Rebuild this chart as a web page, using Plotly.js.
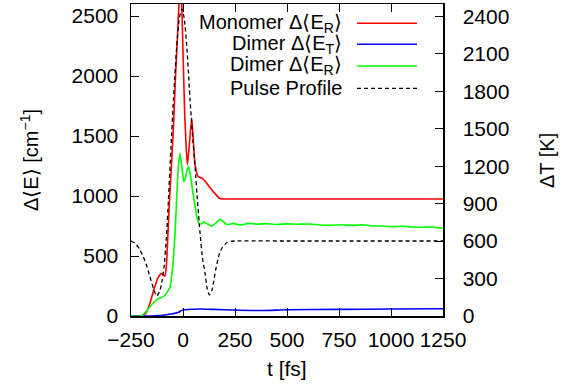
<!DOCTYPE html>
<html>
<head>
<meta charset="utf-8">
<script src="https://cdn.plot.ly/plotly-3.0.1.min.js"></script>
<style>html,body{margin:0;padding:0;background:#fff;}#plot{width:570px;height:390px;}</style>
</head>
<body>
<div id="plot"></div>
<script>
// Monomer Δ<E_R> (cm^-1)
const monoT = [-250,-200,-180,-160,-140,-120,-102,-87,-80,-72,-64,-54,-44,-36,-26,-18,-12,-6,0,8,14,21,30,42,50,58,74,90,100,114,146,175,200,250,500,750,1000,1250];
const monoE = [0,0,20,100,220,320,355,330,420,700,1000,1300,1650,2000,2350,2650,2750,2600,2200,1700,1450,1260,1420,1650,1450,1260,1160,1150,1135,1106,1036,981,975,975,975,975,975,975];
// Dimer Δ<E_T>
const dimTT = [-250,-150,-120,-100,-78,-60,-40,-20,-8,0,20,50,82,150,240,385,500,757,1000,1250];
const dimTE = [0,0,3,6,11,16,22,32,45,50,54,56,58,55,50,46,52,55,58,60];
// Dimer Δ<E_R>
const dimRT = [-250,-200,-180,-160,-143,-120,-102,-85,-70,-62,-50,-38,-30,-22,-14,-6,4,12,20,26,35,45,55,66,78,90,100,115,135,155,178,195,210,242,274,314,360,400,450,500,550,611,659,707,760,820,867,900,950,1011,1060,1100,1155,1200,1230,1250];
const dimRE = [0,0,30,75,108,145,155,175,215,245,400,700,1000,1250,1356,1250,1120,1150,1220,1245,1180,1060,950,830,765,770,786,770,750,770,805,785,762,772,758,772,765,770,762,768,765,767,758,756,760,755,760,752,750,745,748,742,739,742,732,736];
// Pulse profile
const pulseT = [-250,-230,-210,-191,-175,-159,-140,-126,-110,-100,-91,-80,-70,-58,-46,-30,-18,-6,6,20,34,46,58,70,82,94,106,116,127,140,154,165,175,190,210,230,250,500,750,1000,1250];
const pulseE = [625,605,560,494,420,328,220,165,217,300,411,650,967,1400,1800,2250,2480,2560,2480,2200,1800,1500,1244,950,689,480,356,230,175,220,356,450,520,575,610,622,625,625,625,625,625];

const xTicks = [-250,0,250,500,750,1000,1250];
const yTicks = [0,500,1000,1500,2000,2500];
const y2Ticks = [0,300,600,900,1200,1500,1800,2100,2400];

const legendNames = ['Monomer Δ⟨E<sub>R</sub>⟩','Dimer Δ⟨E<sub>T</sub>⟩','Dimer Δ⟨E<sub>R</sub>⟩','Pulse Profile'];
const colors = ['#ff0000','#0000ff','#00ff00','#000000'];

const L = 131, R = 443, T = 4, B = 316;
const px = x => (x - L) / (R - L);
const py = y => (B - y) / (B - T);
const FONT = 'Liberation Sans, Arial, Helvetica, sans-serif';
const FS = 21;

const sp = {shape:'spline', smoothing:0.5};
const traces = [
  {x: monoT, y: monoE, mode:'lines', line:Object.assign({color:colors[0], width:1.6}, sp), name:legendNames[0]},
  {x: dimTT, y: dimTE, mode:'lines', line:Object.assign({color:colors[1], width:1.6}, sp), name:legendNames[1]},
  {x: dimRT, y: dimRE, mode:'lines', line:Object.assign({color:colors[2], width:1.6}, sp), name:legendNames[2]},
  {x: pulseT, y: pulseE, mode:'lines', line:Object.assign({color:colors[3], width:1.3, dash:'4px,3px'}, sp), name:legendNames[3]},
  {x: [0], y: [0], yaxis:'y2', mode:'lines', line:{color:'rgba(0,0,0,0)'}, showlegend:false, hoverinfo:'skip'}
];

const legY = [23.3, 44.3, 66, 88.3];
const annotations = [];
const shapes = [];
legendNames.forEach((n,i) => {
  annotations.push({xref:'paper', yref:'paper', x:px(344), y:py(legY[i]), xanchor:'right', yanchor:'middle', text:n, showarrow:false, font:{family:FONT, size:20, color:'#000'}});
  shapes.push({type:'line', xref:'paper', yref:'paper', x0:px(357), x1:px(417), y0:py(legY[i]), y1:py(legY[i]), line:{color:colors[i], width:i===3?1.3:1.6, dash:i===3?'4px,3px':'solid'}});
});
annotations.push({xref:'paper', yref:'paper', x:px(29), y:py(160), textangle:-90, xanchor:'center', yanchor:'middle', text:'Δ⟨E⟩ [cm<sup>−1</sup>]', showarrow:false, font:{family:FONT, size:20, color:'#000'}});
annotations.push({xref:'paper', yref:'paper', x:px(547), y:py(161), textangle:-90, xanchor:'center', yanchor:'middle', text:'ΔT [K]', showarrow:false, font:{family:FONT, size:20, color:'#000'}});
annotations.push({xref:'paper', yref:'paper', x:px(287), y:py(368), xanchor:'center', yanchor:'middle', text:'t [fs]', showarrow:false, font:{family:FONT, size:FS, color:'#000'}});

const layout = {
  width:570, height:390,
  margin:{l:L, r:570-R, t:T, b:390-B, pad:0},
  paper_bgcolor:'#fff', plot_bgcolor:'#fff',
  showlegend:false,
  font:{family:FONT, size:FS, color:'#000'},
  xaxis:{range:[-250,1250], tickvals:xTicks, ticktext:xTicks.map(v=>v<0?'−'+(-v):String(v)), ticks:'inside', ticklen:8, tickwidth:1, tickcolor:'#000',
         showline:true, linecolor:'#000', linewidth:1.5, mirror:'ticks', showgrid:false, zeroline:false, tickfont:{family:FONT,size:FS,color:'#000'}, ticklabelstandoff:4},
  yaxis:{range:[0,2600], tickvals:yTicks, ticks:'inside', ticklen:8, tickwidth:1, tickcolor:'#000',
         showline:true, linecolor:'#000', linewidth:1.5, showgrid:false, zeroline:false, tickfont:{family:FONT,size:FS,color:'#000'}, ticklabelstandoff:7},
  yaxis2:{range:[0,2500], tickvals:y2Ticks, overlaying:'y', side:'right', ticks:'inside', ticklen:8, tickwidth:1, tickcolor:'#000',
         showline:true, linecolor:'#000', linewidth:1.5, showgrid:false, zeroline:false, tickfont:{family:FONT,size:FS,color:'#000'}, ticklabelstandoff:14},
  annotations: annotations,
  shapes: shapes
};

Plotly.newPlot('plot', traces, layout, {staticPlot:true, displayModeBar:false});
</script>
</body>
</html>
